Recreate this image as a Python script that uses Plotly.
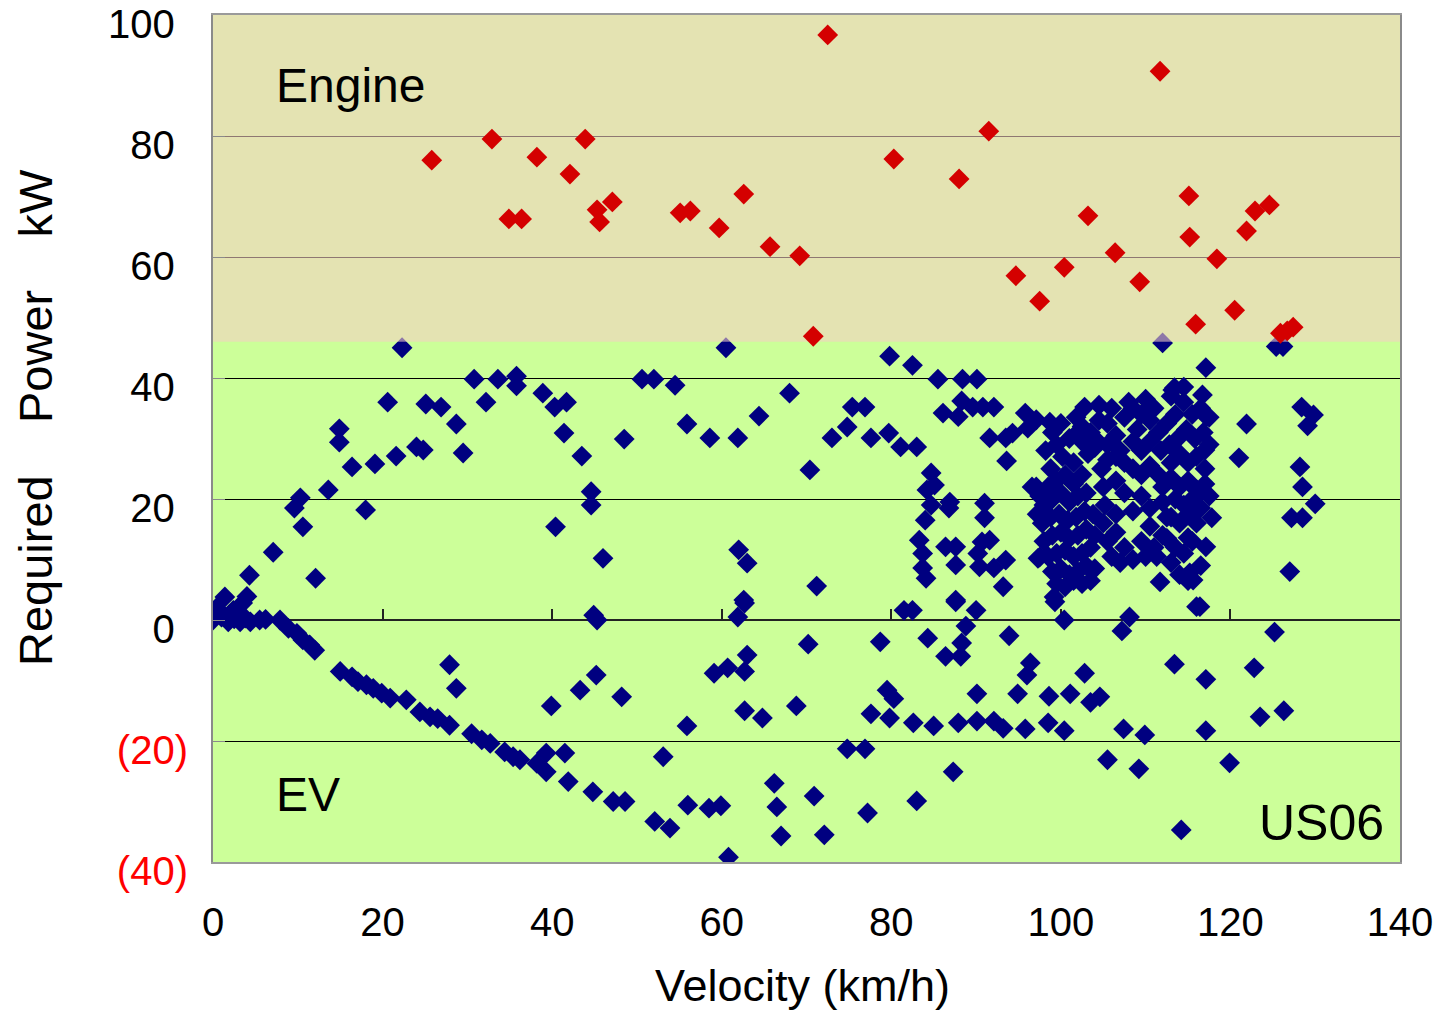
import plotly.graph_objects as go

# ---------------- data ----------------
ENGINE_THRESHOLD = 46  # kW

engine_x = [25.8, 32.9, 34.9, 36.4, 38.2, 42.1, 43.9, 45.3, 45.6, 47.1, 55.1, 56.3, 59.7, 62.6, 65.7,
            69.2, 70.8, 72.5, 80.3, 88.0, 91.5, 94.7, 97.5, 100.4, 103.2, 106.4, 109.3, 111.7, 115.1,
            115.2, 115.9, 118.4, 120.5, 121.9, 122.9, 124.6, 125.9, 126.7, 127.4]
engine_y = [76.0, 79.5, 66.3, 66.3, 76.5, 73.7, 79.5, 67.8, 65.8, 69.1, 67.3, 67.6, 64.8, 70.4, 61.7,
            60.2, 46.9, 96.7, 76.2, 72.9, 80.8, 56.9, 52.7, 58.3, 66.8, 60.7, 55.9, 90.7, 70.1,
            63.3, 48.9, 59.7, 51.2, 64.3, 67.6, 68.6, 47.4, 47.8, 48.4]

ev_points = [
    # near origin
    (0, 0), (0.4, 2.0), (0.8, 1.1), (1.4, 3.8), (2.4, 1.6), (3.5, 2.8), (4.0, 3.9), (4.3, 7.4), (7.1, 11.2),
    (1.8, -0.3), (3.2, -0.3), (4.4, -0.3), (5.5, 0), (1.0, 0.5), (2.5, 0.2), (3.8, 0.3), (6.2, 0.1),
    # regenerative braking line
    (7.9, 0), (8.9, -1.4), (9.9, -2.2), (10.6, -3.3), (11.4, -4.1), (12.0, -5.0), (15.0, -8.5), (16.4, -9.4),
    (17.1, -10.2), (18.1, -10.7), (18.9, -11.3), (19.9, -12.1), (20.9, -12.9), (22.8, -13.2), (24.4, -15.2),
    (25.6, -16.0), (26.5, -16.3), (27.9, -17.4), (30.5, -18.8), (31.7, -19.8), (32.7, -20.4), (34.4, -21.8),
    (35.4, -22.6), (36.2, -23.1), (38.2, -23.7), (39.3, -22.0), (39.3, -25.1), (41.5, -22.0), (41.9, -26.7),
    (44.8, -28.4), (47.2, -30.0), (48.6, -30.0), (52.1, -33.3), (53.9, -34.4), (56.0, -30.6), (58.5, -31.1),
    (59.9, -30.7), (60.8, -39.2),
    # other negative points
    (27.9, -7.4), (28.7, -11.3), (39.9, -14.2), (43.3, -11.6), (45.2, -9.1), (48.2, -12.7), (55.9, -17.5),
    (53.1, -22.6), (59.1, -8.8), (60.7, -7.9), (62.7, -8.5), (63.0, -5.8), (62.7, -15.0), (64.8, -16.2),
    (68.8, -14.2), (66.2, -27.0), (66.5, -30.9), (67.0, -35.7), (70.9, -29.1), (72.1, -35.5), (77.2, -31.9),
    (83.0, -29.9), (87.3, -25.1), (74.8, -21.3), (76.9, -21.3), (77.6, -15.5), (79.5, -11.6), (80.3, -13.0),
    (79.8, -16.2), (82.6, -17.0), (85.0, -17.5), (87.9, -17.0), (90.1, -16.7), (92.1, -16.7), (93.2, -17.9),
    (95.8, -18.0), (98.5, -17.0), (100.4, -18.3), (90.1, -12.2), (94.9, -12.2), (96.4, -7.1), (96.0, -9.1),
    (98.6, -12.6), (101.1, -12.2), (102.8, -8.8), (103.5, -13.6), (104.6, -12.7), (107.4, -18.0),
    (109.9, -19.0), (105.5, -23.1), (109.2, -24.6), (113.4, -7.3), (117.1, -9.8), (117.1, -18.3),
    (122.8, -7.9), (123.5, -16.0), (126.3, -15.0), (119.9, -23.6), (114.2, -34.7), (70.2, -4.0), (78.7, -3.6),
    (84.3, -3.0), (88.3, -3.8), (86.4, -6.0), (88.2, -6.0), (93.9, -2.6), (107.2, -1.8), (125.2, -2.0),
    (88.8, -1.0),
    # around zero, positive
    (61.9, 0.5), (62.7, 2.8), (81.5, 1.6), (82.5, 1.6), (87.6, 3.0), (90.0, 1.6), (100.4, 0), (99.3, 3.0),
    (108.1, 0.5), (116.4, 2.2), (62.6, 3.3), (71.2, 5.6), (62.0, 11.6), (63.0, 9.4), (97.5, 10.4), (99.2, 3.8),
    # upper left
    (22.3, 45.0), (20.6, 36.0), (14.9, 31.6), (14.9, 29.4), (16.4, 25.3), (19.1, 25.8), (21.6, 27.1),
    (24.0, 28.6), (24.8, 28.1), (25.1, 35.7), (26.9, 35.2), (28.7, 32.4), (29.5, 27.6), (30.8, 39.8),
    (32.2, 36.0), (33.6, 39.8), (35.8, 40.3), (35.8, 38.7), (38.9, 37.5), (40.3, 35.2), (41.7, 36.0),
    (41.4, 30.9), (43.5, 27.1), (44.6, 21.2), (44.6, 19.0), (40.4, 15.4), (46.0, 10.2), (44.9, 0.8),
    (45.3, 0), (50.6, 39.8), (52.0, 39.8), (54.5, 38.8), (55.9, 32.4), (48.5, 29.9), (18.0, 18.2),
    (13.6, 21.5), (10.3, 20.2), (9.6, 18.5), (10.6, 15.4), (12.1, 6.9),
    # middle, positive
    (60.5, 45.0), (79.8, 43.6), (82.5, 42.1), (85.5, 39.8), (88.4, 39.8), (90.1, 39.8), (68.0, 37.5),
    (64.4, 33.7), (58.6, 30.1), (61.9, 30.1), (75.4, 35.2), (76.9, 35.2), (74.8, 31.9), (73.0, 30.1),
    (77.6, 30.1), (79.7, 30.9), (81.1, 28.6), (83.0, 28.6), (70.4, 24.8), (86.1, 34.2), (87.9, 33.6),
    (88.3, 36.2), (89.6, 35.2), (90.8, 35.2), (92.1, 35.2), (91.6, 30.1), (93.5, 30.1), (93.6, 26.3),
    (94.3, 30.9), (95.8, 34.2), (97.1, 33.1), (98.7, 32.7), (96.1, 31.7), (102.8, 35.2), (101.9, 30.9),
    (97.1, 22.0), (84.7, 24.3), (85.1, 22.3), (84.2, 21.5), (86.9, 19.5), (84.7, 19.0), (84.0, 16.5),
    (91.0, 19.3), (91.0, 16.9), (83.3, 13.2), (83.7, 11.0), (83.7, 8.6), (84.1, 6.9), (86.4, 12.1),
    (87.6, 12.1), (87.6, 9.1), (90.7, 12.9), (91.6, 13.2), (90.4, 8.8), (92.1, 8.6), (93.2, 5.5),
    (93.5, 9.9), (86.8, 18.5), (90.2, 11.0), (87.6, 3.3), (96.6, 22.0), (97.3, 10.2),
    # right side
    (121.9, 32.4), (121.0, 26.8), (128.4, 35.2), (129.8, 33.9), (129.1, 32.1), (128.2, 25.3), (128.5, 22.0),
    (130.0, 19.2), (127.2, 16.9), (128.5, 16.9), (127.0, 8.0), (112.0, 45.8), (125.4, 45.2), (126.2, 45.2),
    (117.1, 41.7), (113.4, 38.4), (116.7, 37.2), (117.2, 33.6), (117.0, 28.1), (116.4, 21.0), (117.8, 16.9),
    (115.0, 13.6), (117.1, 12.1), (115.2, 7.8), (116.0, 2.2), (115.6, 6.6), (111.7, 6.3), (113.2, 38.0),
    # dense cluster, left column
    (98.2, 28), (98.8, 25), (99.5, 29), (100.2, 27), (101, 30), (101.5, 26), (98.5, 22), (99.5, 23),
    (100.5, 24), (101.5, 22.5), (102.5, 24), (98, 19), (99, 20), (100, 21), (101, 19.5), (102, 20.5),
    (103, 21), (97.8, 16), (98.8, 17), (99.8, 17.5), (100.8, 16.5), (101.8, 17), (102.8, 18), (103.8, 17.5),
    (98, 13), (99, 14), (100, 14.5), (101, 13.5), (102, 14), (103, 15), (98.5, 10.5), (99.5, 11),
    (100.5, 11.5), (101.5, 10.5), (102.5, 11), (103.5, 12), (99, 8), (100, 8.5), (101, 7.5), (102, 8),
    (103, 9), (99.5, 6), (100.5, 5.5), (101.5, 6.5), (102.5, 6), (103.5, 6.5), (104, 8.5), (104, 14),
    (97.5, 20.5), (97.2, 17.5), (99, 31), (100, 32.5), (101.8, 33.5), (102.5, 29.5), (103.2, 27.5), (104, 30),
    # dense cluster, middle ring
    (104.8, 25), (105.5, 26.5), (106.5, 27), (107.5, 26), (108.5, 25), (109.5, 24), (110.5, 25.5),
    (111.5, 24), (112, 22), (105, 22), (105.2, 19), (105, 16), (105.5, 13), (106, 10.5), (107, 9.5),
    (108.5, 10), (110, 10.5), (111, 12), (112, 14), (112.5, 17), (112, 19.5), (106.5, 23), (107.5, 21),
    (109.5, 20.5), (110.5, 18.5), (106.5, 17.5), (106.5, 14.5), (107.5, 12), (109.5, 13), (110.5, 15.5),
    (108.5, 18), (111.3, 10.5),
    # dense cluster, upper part
    (102.5, 32), (103.5, 31), (104.5, 33), (105.5, 32.5), (106.5, 30.5), (107.5, 33.5), (108.5, 35),
    (109.5, 34), (110.5, 33), (111.5, 31), (112.5, 32.5), (113.5, 34), (114.5, 36), (115.5, 34), (116.5, 35),
    (117.5, 33.5), (104, 28.5), (105.5, 29), (107, 28), (108.5, 29.5), (109.5, 28), (110.5, 29.5),
    (111.8, 28), (112.8, 29), (113.8, 30), (114.8, 31.5), (115.8, 30), (116.8, 31), (117.5, 29), (113, 26),
    (114, 27.5), (115, 26), (116, 27), (117, 25), (109, 31.5), (108, 36), (106, 35), (104.5, 35.5),
    (110, 36.5), (111, 35), (113, 37), (114.5, 38.5),
    # dense cluster, right part
    (113, 23.5), (114, 22), (115, 23), (116, 21.5), (117, 22.5), (113.5, 20), (114.5, 19), (115.5, 20),
    (116.5, 18.5), (117.5, 20.5), (113, 17), (114, 16), (115, 17.5), (116, 16), (112.5, 13.5), (113.5, 12),
    (114.5, 11), (115.5, 13), (116.5, 9), (113, 9.5), (114, 7.5), (115, 6.5),
]
ev_x = [p[0] for p in ev_points]
ev_y = [p[1] for p in ev_points]

x_ticks = [0, 20, 40, 60, 80, 100, 120, 140]
y_ticks = [-40, -20, 0, 20, 40, 60, 80, 100]
y_ticktext = ['(40)', '(20)', '0', '20', '40', '60', '80', '100']

# ---------------- figure ----------------
FONT = "Arial, 'Liberation Sans', sans-serif"
BLUE = '#000080'
RED = '#D40000'

def ylabel(v, t):
    if v < 0:
        return '<span style="color:#FF0000">%s</span>' % t
    return t + '<span style="color:rgba(0,0,0,0)">)</span>'

fig = go.Figure()

# helper trace for the axis drawn at y = 0
fig.add_trace(go.Scatter(x=[], y=[], xaxis='x2', yaxis='y', showlegend=False, hoverinfo='skip'))

fig.add_trace(go.Scatter(
    x=ev_x, y=ev_y, mode='markers', showlegend=False,
    marker=dict(symbol='diamond', size=16, color=BLUE, line=dict(width=0)),
))

# semi-transparent engine region drawn above the blue points
fig.add_trace(go.Scatter(
    x=[0, 140, 140, 0, 0],
    y=[ENGINE_THRESHOLD, ENGINE_THRESHOLD, 100, 100, ENGINE_THRESHOLD],
    mode='lines', fill='toself', fillcolor='rgba(245,207,196,0.58)',
    line=dict(width=0), showlegend=False, hoverinfo='skip',
))

fig.add_trace(go.Scatter(
    x=engine_x, y=engine_y, mode='markers', showlegend=False,
    marker=dict(symbol='diamond', size=16, color=RED, line=dict(width=0)),
))

fig.update_layout(
    width=1439, height=1010,
    margin=dict(l=213, r=39, t=15, b=148, pad=0, autoexpand=False),
    paper_bgcolor='white', plot_bgcolor='#CCFF99',
    font=dict(family=FONT, color='black'),
    xaxis=dict(
        range=[0, 140], tickvals=x_ticks, ticktext=[str(v) for v in x_ticks],
        showgrid=False, zeroline=False, ticks='', automargin=False,
        showline=True, mirror=True, linecolor='#9a9a9a', linewidth=2,
        tickfont=dict(size=40, family=FONT), ticklabelstandoff=24,
    ),
    xaxis2=dict(
        overlaying='x', anchor='free', position=40 / 140, side='bottom',
        range=[0, 140], tickvals=x_ticks, showticklabels=False,
        ticks='inside', ticklen=10, tickcolor='#222', tickwidth=1.5,
        showline=True, linecolor='#222', linewidth=1.5, automargin=False,
        showgrid=False, zeroline=False, layer='below traces',
    ),
    yaxis=dict(
        range=[-40, 100], tickvals=y_ticks, automargin=False,
        ticktext=[ylabel(v, t) for v, t in zip(y_ticks, y_ticktext)],
        showgrid=True, gridcolor='black', gridwidth=1, zeroline=False,
        showline=True, mirror=True, linecolor='#8a8a8a', linewidth=2,
        ticks='inside', ticklen=12, tickcolor='#8a8a8a',
        tickfont=dict(size=40, family=FONT), ticklabelstandoff=15,
        ticklabelshift=9, ticklabeloverflow='allow',
    ),
    annotations=[
        dict(text='Engine', x=7.2, y=88.3, xref='x', yref='y', xanchor='left', yanchor='middle',
             showarrow=False, font=dict(size=48, family=FONT)),
        dict(text='EV', x=7.2, y=-28.9, xref='x', yref='y', xanchor='left', yanchor='middle',
             showarrow=False, font=dict(size=48, family=FONT)),
        dict(text='US06', x=138.4, y=-33.6, xref='x', yref='y', xanchor='right', yanchor='middle',
             showarrow=False, font=dict(size=50, family=FONT)),
        dict(text='Required\u00a0\u00a0\u00a0\u00a0Power\u00a0\u00a0\u00a0\u00a0kW', textangle=-90,
             x=(35 - 213) / 1187, y=(862 - 418) / 847, xref='paper', yref='paper',
             xanchor='center', yanchor='middle', showarrow=False, font=dict(size=47, family=FONT)),
        dict(text='Velocity (km/h)', x=0.497, y=(862 - 985) / 847, xref='paper', yref='paper',
             xanchor='center', yanchor='middle', showarrow=False, font=dict(size=45, family=FONT)),
    ],
)

fig.write_html('out.html')
